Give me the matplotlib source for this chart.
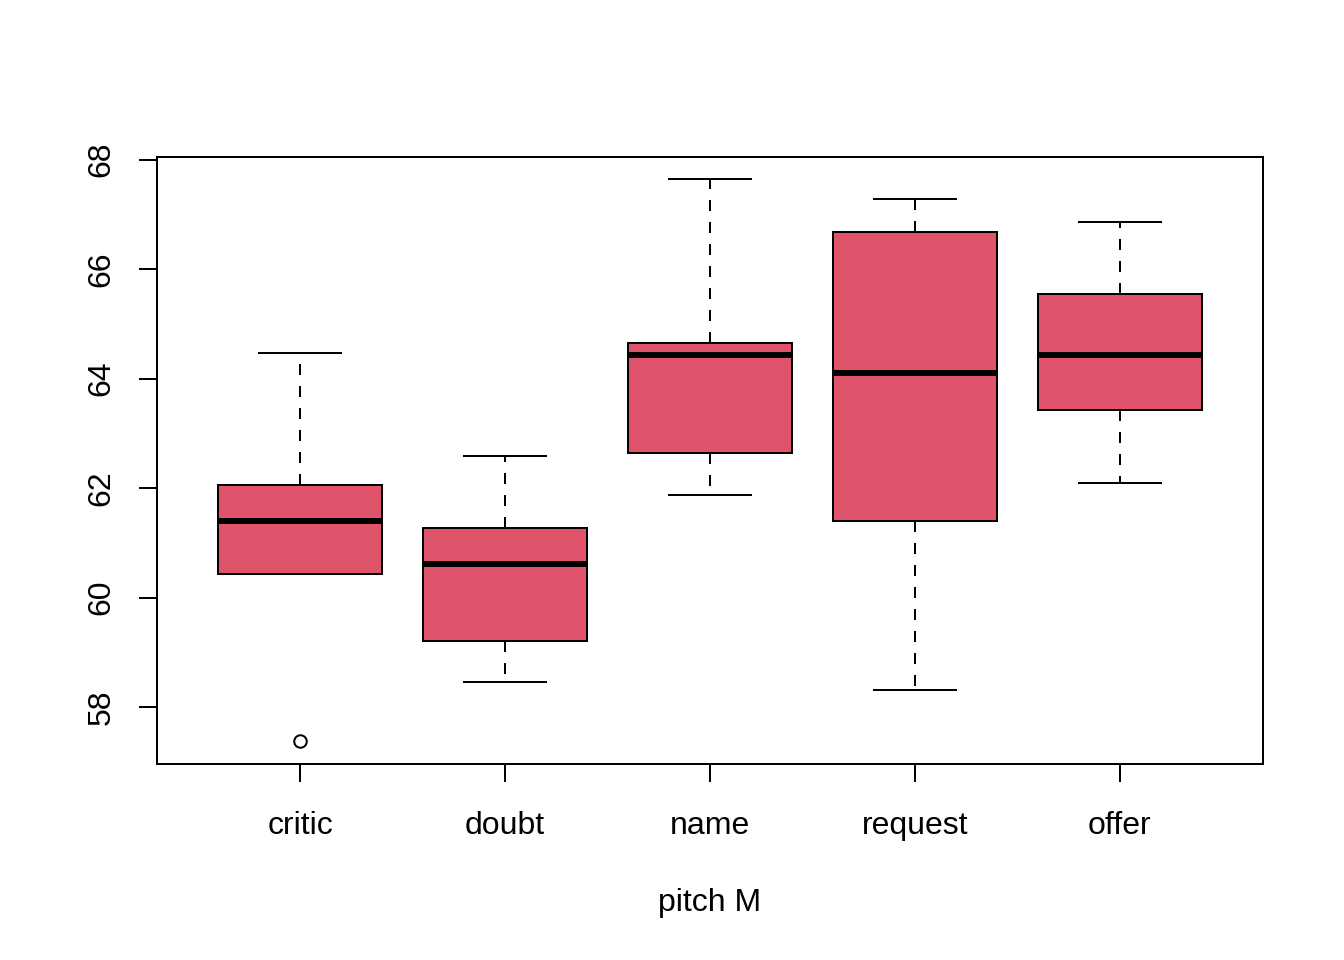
import numpy as np
import matplotlib
matplotlib.use("Agg")
import matplotlib.pyplot as plt

plt.rcParams["font.family"] = ["Liberation Sans", "DejaVu Sans"]

# five-number summaries
categories = ["critic", "doubt", "name", "request", "offer"]
whislo = [60.43, 58.46, 61.88, 58.31, 62.10]
q1 = [60.43, 59.21, 62.64, 61.40, 63.43]
med = [61.40, 60.61, 64.44, 64.11, 64.44]
q3 = [62.06, 61.27, 64.65, 66.68, 65.55]
whishi = [64.47, 62.59, 67.65, 67.29, 66.87]
fliers = [[57.38], [], [], [], []]

BOX_COLOR = "#DF536B"

stats = []
for i, name in enumerate(categories):
    stats.append({
        "label": name,
        "whislo": whislo[i],
        "q1": q1[i],
        "med": med[i],
        "q3": q3[i],
        "whishi": whishi[i],
        "fliers": fliers[i],
    })

fig = plt.figure(figsize=(13.44, 9.6), dpi=100)
ax = fig.add_axes([157 / 1344, 1 - 764 / 960, (1263 - 157) / 1344, (764 - 157) / 960])

lw = 1.44
fs = 23
pos = np.arange(1, len(categories) + 1)
ax.bxp(
    stats,
    positions=pos,
    widths=0.8,
    patch_artist=True,
    boxprops=dict(facecolor=BOX_COLOR, edgecolor="black", linewidth=lw),
    medianprops=dict(color="black", linewidth=4.3, solid_capstyle="butt"),
    whiskerprops=dict(color="black", linewidth=lw, linestyle=(0, (5.5, 5.5))),
    capprops=dict(color="black", linewidth=lw),
    flierprops=dict(marker="o", markersize=9, markerfacecolor="none",
                    markeredgecolor="black", markeredgewidth=lw),
    capwidths=0.4,
)

ax.set_xlim(0.30, 5.70)
ax.set_ylim(56.96, 68.05)
ax.set_xticks(pos)
ax.set_xticklabels(categories, fontsize=fs)
ax.set_yticks([58, 60, 62, 64, 66, 68])
ax.set_yticklabels(["58", "60", "62", "64", "66", "68"], fontsize=fs,
                   rotation=90, va="center")
ax.tick_params(axis="both", direction="out", length=13, width=lw)
ax.tick_params(axis="x", pad=21)
ax.tick_params(axis="y", pad=16)
for s in ax.spines.values():
    s.set_linewidth(lw)

ax.set_xlabel("pitch M", fontsize=fs, labelpad=34)

fig.savefig("out.png", dpi=100)
